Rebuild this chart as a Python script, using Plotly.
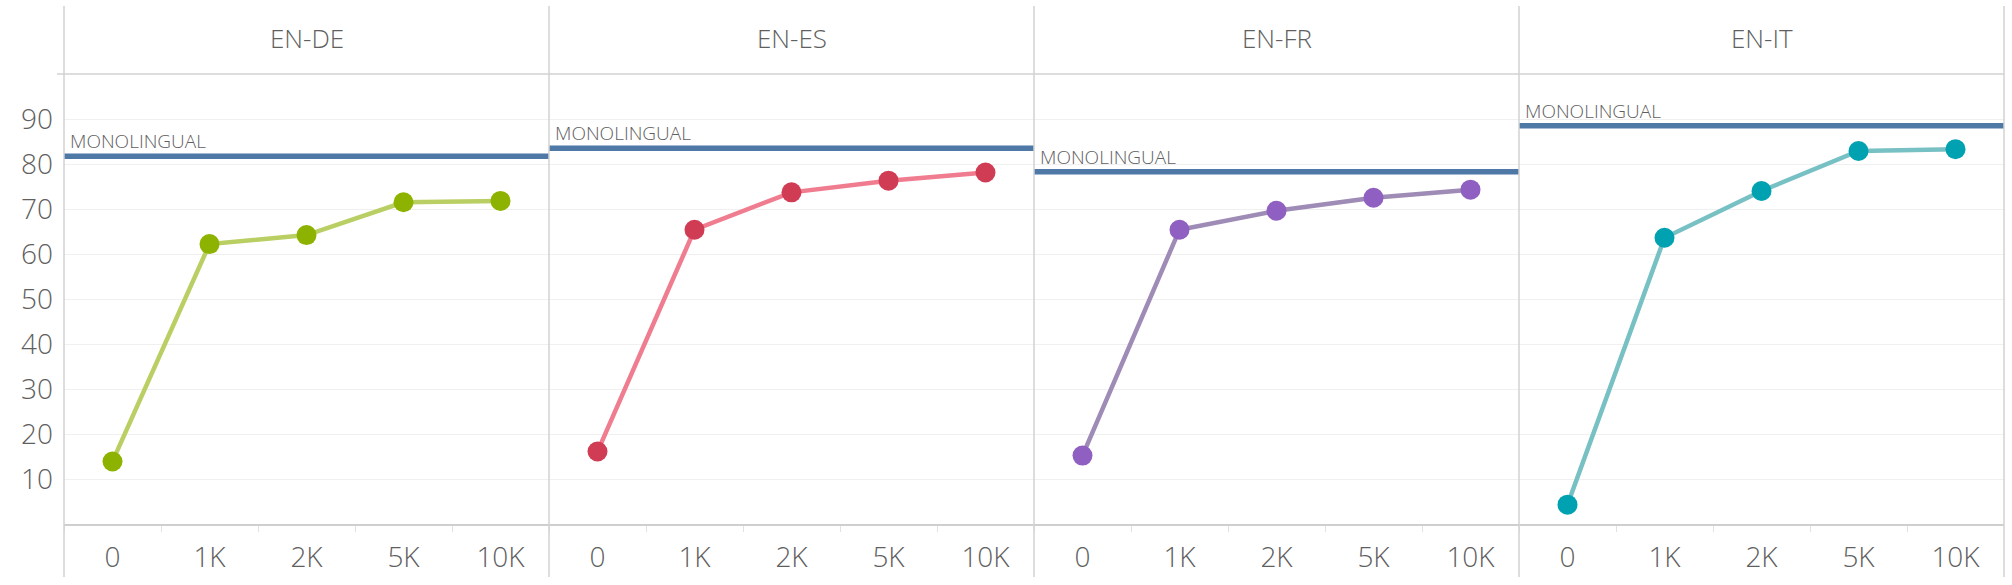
import plotly.graph_objects as go
from plotly.subplots import make_subplots

# ---- data ----
categories = ["0", "1K", "2K", "5K", "10K"]
pairs = ["EN-DE", "EN-ES", "EN-FR", "EN-IT"]
en_de = [13.9, 62.2, 64.2, 71.5, 71.8]
en_es = [16.1, 65.4, 73.7, 76.3, 78.1]
en_fr = [15.2, 65.4, 69.6, 72.5, 74.3]
en_it = [4.3, 63.6, 74.0, 82.9, 83.3]
monolingual = [81.7, 83.5, 78.3, 88.5]
y_ticks = [10, 20, 30, 40, 50, 60, 70, 80, 90]

series = [en_de, en_es, en_fr, en_it]
marker_colors = ["#8db300", "#d13c55", "#8f5fc1", "#00a2b2"]
line_colors = ["#b9cf63", "#f07c90", "#9e8bb6", "#77c0c4"]
mono_color = "#4e79a7"

W, H = 2012, 585
left_px, right_px = 64, 2004
top_px, bottom_px = 74, 524
panel_w = (right_px - left_px) / 4

fig = make_subplots(rows=1, cols=4, shared_yaxes=True, horizontal_spacing=0)

text_color = "#5f5f5f"
font_family = "Open Sans, Lato, sans-serif"

for i, (vals, mc, lc) in enumerate(zip(series, marker_colors, line_colors)):
    col = i + 1
    fig.add_trace(
        go.Scatter(
            x=categories, y=vals, mode="lines+markers",
            line=dict(color=lc, width=4.5),
            marker=dict(color=mc, size=20, line=dict(width=0)),
            showlegend=False, hoverinfo="x+y",
        ),
        row=1, col=col,
    )
    fig.add_hline(y=monolingual[i], line=dict(color=mono_color, width=5.5),
                  row=1, col=col, layer="above")
    xa = "x" if i == 0 else f"x{col}"
    ya = "y" if i == 0 else f"y{col}"
    fig.add_annotation(
        x=0.008, xref=f"{xa} domain", y=monolingual[i], yref=ya,
        text="MONOLINGUAL", showarrow=False, xanchor="left", yanchor="bottom",
        yshift=0, font=dict(size=19, color=text_color, family=font_family, weight=300),
    )
    # panel title
    cx = (left_px + panel_w * (i + 0.5)) / W
    fig.add_annotation(
        x=cx, xref="paper", y=1 - 38 / H, yref="paper", text=pairs[i],
        showarrow=False, xanchor="center", yanchor="middle",
        font=dict(size=26, color=text_color, family=font_family, weight=300),
    )
    x0 = (left_px + panel_w * i) / W
    x1 = (left_px + panel_w * (i + 1)) / W
    fig.update_xaxes(
        domain=[x0, x1], type="category", range=[-0.5, 4.5],
        showgrid=False, showline=True, linecolor="#cfcfcf", linewidth=1.5,
        ticks="outside", tickson="boundaries", ticklen=6, tickcolor="#e2e2e2",
        ticklabelstandoff=8,
        tickfont=dict(size=28, color=text_color, family=font_family, weight=300),
        zeroline=False, fixedrange=True,
        row=1, col=col,
    )
    fig.update_yaxes(
        domain=[1 - bottom_px / H, 1 - top_px / H], range=[0, 100],
        tickvals=y_ticks, showgrid=True, gridcolor="#f0f0f0", gridwidth=1.2,
        zeroline=False, showline=False, ticks="",
        showticklabels=(i == 0), ticklabelstandoff=10,
        tickfont=dict(size=28, color=text_color, family=font_family, weight=300),
        row=1, col=col,
    )

# separators and header line
shapes = []
for k in range(5):
    xp = (left_px + panel_w * k) / W
    shapes.append(dict(type="line", xref="paper", yref="paper",
                       x0=xp, x1=xp, y0=1 - 577 / H, y1=1 - 6 / H,
                       line=dict(color="#d2d2d2", width=1.5), layer="above"))
shapes.append(dict(type="line", xref="paper", yref="paper",
                   x0=57 / W, x1=right_px / W, y0=1 - top_px / H, y1=1 - top_px / H,
                   line=dict(color="#d2d2d2", width=1.5), layer="above"))
for s in shapes:
    fig.add_shape(**s)

fig.update_layout(
    width=W, height=H, margin=dict(l=0, r=0, t=0, b=0),
    plot_bgcolor="white", paper_bgcolor="white",
    font=dict(family=font_family, color=text_color),
    showlegend=False,
)

fig.write_html("out.html")
